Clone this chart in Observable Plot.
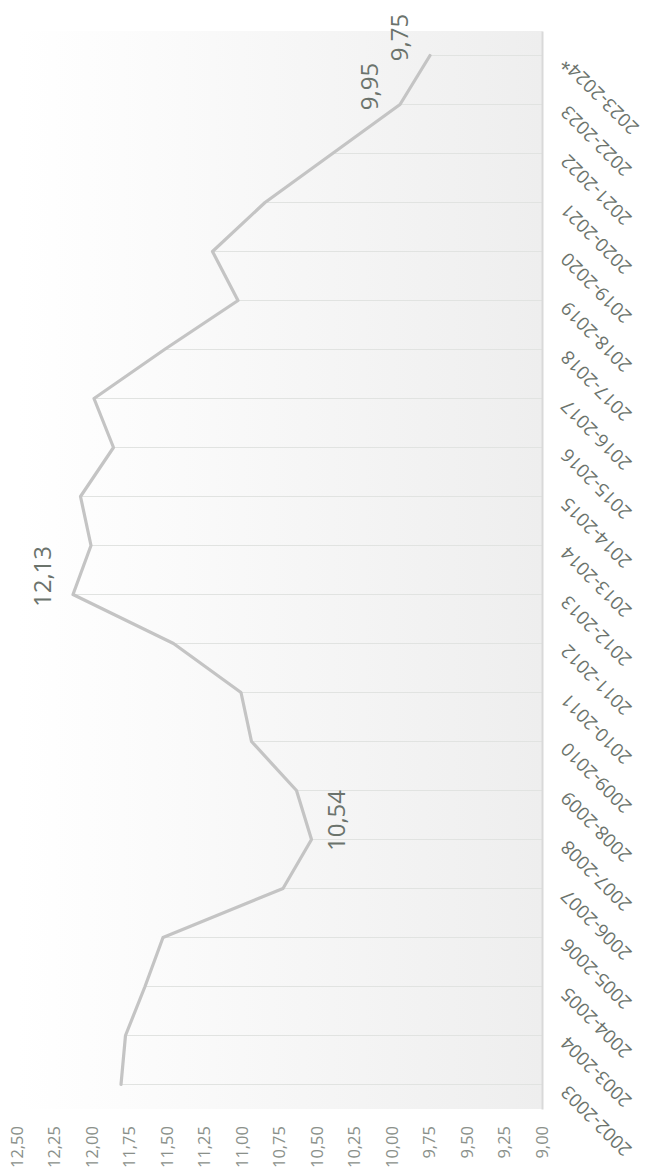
<!DOCTYPE html>
<html><head><meta charset="utf-8">
<script src="https://cdn.jsdelivr.net/npm/d3@7"></script>
<script src="https://cdn.jsdelivr.net/npm/@observablehq/plot@0.6"></script>
<style>
html,body{margin:0;padding:0;background:#fff;overflow:hidden}
#wrap{position:relative;width:647px;height:1175px;overflow:hidden}
#chart{position:absolute;left:0;top:0;width:1175px;height:647px;transform-origin:0 0;transform:translate(0px,1175px) rotate(-90deg)}
</style></head><body><div id="wrap"><div id="chart"></div></div>
<script>
const seasons = ["2002-2003","2003-2004","2004-2005","2005-2006","2006-2007","2007-2008","2008-2009","2009-2010","2010-2011","2011-2012","2012-2013","2013-2014","2014-2015","2015-2016","2016-2017","2017-2018","2018-2019","2019-2020","2020-2021","2021-2022","2022-2023","2023-2024*"];
const values = [11.81,11.78,11.65,11.53,10.73,10.54,10.64,10.94,11.01,11.46,12.13,12.01,12.08,11.86,11.99,11.52,11.03,11.20,10.85,10.40,9.95,9.75];
const tickValues = [9,9.25,9.5,9.75,10,10.25,10.5,10.75,11,11.25,11.5,11.75,12,12.25,12.5];
const labelAbove = ["2012-2013","2022-2023","2023-2024*"];
const labelBelow = ["2007-2008"];

const data = seasons.map((s, i) => ({season: s, value: values[i]}));
const fmt = v => v.toFixed(2).replace(".", ",");
const font = "'Open Sans', sans-serif";

const chart = Plot.plot({
  width: 1175,
  height: 647,
  marginLeft: 65.5,
  marginRight: 31.5,
  marginTop: 17,
  marginBottom: 105,
  style: {fontFamily: font, background: "transparent"},
  x: {type: "point", domain: seasons, padding: 0.5, axis: null},
  y: {domain: [9, 12.5], axis: null},
  marks: [
    Plot.frame({fill: "url(#bgGrad)", stroke: "none"}),
    Plot.ruleX(data, {x: "season", y1: 9, y2: "value", stroke: "#e1e3e1", strokeWidth: 1.2}),
    Plot.ruleY([9], {stroke: "#d9d9d9", strokeWidth: 2}),
    Plot.line(data, {x: "season", y: "value", stroke: "#c4c4c4", strokeWidth: 3.2, strokeLinejoin: "round"}),
    Plot.axisY({ticks: tickValues, tickFormat: fmt, tickSize: 0, tickPadding: 17, fontSize: 16.5, fill: "#8a908a", label: null}),
    Plot.text(seasons, {x: d => d, text: d => d, frameAnchor: "bottom", rotate: -45, textAnchor: "end", lineAnchor: "middle", dy: 22, dx: -4, fontSize: 18.5, fill: "#6b736c"}),
    Plot.text(data.filter(d => labelAbove.includes(d.season)), {x: "season", y: "value", text: d => fmt(d.value), lineAnchor: "bottom", dy: -22, dx: 18, fontSize: 24, fill: "#6b736c"}),
    Plot.text(data.filter(d => labelBelow.includes(d.season)), {x: "season", y: "value", text: d => fmt(d.value), lineAnchor: "top", dy: 16, dx: 19, fontSize: 24, fill: "#6b736c"})
  ]
});

const svg = d3.select(chart);
const defs = svg.insert("defs", ":first-child");
const g = defs.append("linearGradient").attr("id", "bgGrad").attr("x1", 0).attr("y1", 0).attr("x2", 0).attr("y2", 1);
g.append("stop").attr("offset", "0").attr("stop-color", "#ffffff");
g.append("stop").attr("offset", "0.2").attr("stop-color", "#fcfcfc");
g.append("stop").attr("offset", "1").attr("stop-color", "#eeeeee");

document.getElementById("chart").appendChild(chart);
</script>
</body></html>
